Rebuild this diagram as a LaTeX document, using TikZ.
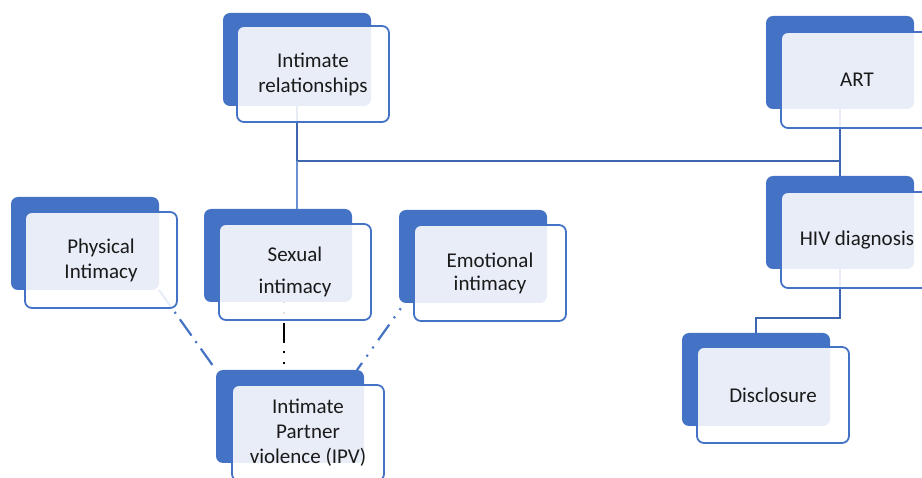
\documentclass[tikz,border=0pt]{standalone}
\usepackage{fontspec}
\setmainfont{Carlito}
\usetikzlibrary{calc}
\pgfdeclarelayer{background}
\pgfsetlayers{background,main}
\definecolor{mblue}{HTML}{4472C4}
\definecolor{cblue}{HTML}{3D66AF}
\definecolor{lblue}{HTML}{6A8FD2}
\definecolor{txt}{HTML}{1A1A1A}
\tikzset{
  backbox/.style={fill=mblue, draw=none, rounded corners=7pt, minimum width=148pt,
    minimum height=93pt, anchor=north west, inner sep=0pt, outer sep=0pt},
  frontbox/.style={fill=white, fill opacity=0.88, text opacity=1, draw=mblue,
    draw opacity=1, line width=1.8pt, rounded corners=7pt, minimum width=152pt,
    minimum height=96pt, anchor=north west, inner sep=0pt, outer sep=0pt,
    align=center, text=txt, font=\fontsize{21}{25}\selectfont},
  thickconn/.style={draw=cblue, line width=2.5pt},
  thinconn/.style={draw=lblue, line width=1.1pt},
  dashdotconn/.style={draw=mblue, line width=2.2pt,
    dash pattern=on 20pt off 7pt on 2pt off 7pt},
  dashdotdotconn/.style={line width=2.2pt,
    dash pattern=on 19pt off 8pt on 2pt off 8pt on 2pt off 8pt},
}
\begin{document}
\begin{tikzpicture}[x=1pt,y=-1pt]
\useasboundingbox (0,0) rectangle (922,478);
% boxes
\node[backbox] (irB) at (223,13) {};
\node[frontbox] (irF) at (237,26) {Intimate\\relationships};
\node[backbox] (piB) at (11,197) {};
\node[frontbox] (piF) at (25,212) {Physical\\Intimacy};
\node[backbox] (siB) at (204,209) {};
\node[frontbox, font=\fontsize{21}{32}\selectfont] (siF) at (219,224) {Sexual\\intimacy};
\node[backbox] (eiB) at (399,210) {};
\node[frontbox, font=\fontsize{21}{23}\selectfont] (eiF) at (414,225) {Emotional\\intimacy};
\node[backbox] (ipvB) at (216,370) {};
\node[frontbox] (ipvF) at (232,385) {Intimate\\Partner\\violence (IPV)};
\node[backbox] (artB) at (766,16) {};
\node[frontbox] (artF) at (781,32) {ART};
\node[backbox] (hivB) at (766,176) {};
\node[frontbox] (hivF) at (781,192) {HIV diagnosis};
\node[backbox] (disB) at (682,333) {};
\node[frontbox] (disF) at (697,347) {Disclosure};
% junction coordinates
\coordinate (j1) at (irB.south |- 0,161);
\coordinate (j2) at (artB.south |- 0,161);
\coordinate (s1) at (j1 |- 0,230);
\coordinate (k1) at (hivB.south |- 0,318);
\coordinate (k2) at (disB.north |- 0,318);
\coordinate (e1) at ($(eiB.south west)+(7,-2)$);
\coordinate (e2) at ($(ipvB.north east)+(-7,0)$);
\coordinate (x1) at ($(siB.south)+(6,0)$);
\coordinate (x2) at (x1 |- ipvB.north);
\begin{pgfonlayer}{background}
  \draw[thickconn] (irB.south) -- (j1) -- (j2);
  \draw[thickconn] (artB.south) -- (hivB.north);
  \draw[thinconn] (j1) -- (s1);
  \draw[thickconn] (hivB.south) -- (k1) -- (k2) -- (disB.north);
  \draw[dashdotconn] (piB.south east) -- (ipvB.north west);
  \draw[dashdotdotconn, draw=mblue, dash phase=18pt] (e1) -- (e2);
  \draw[dashdotdotconn, draw=black, line width=2.5pt,
    dash pattern=on 20pt off 8pt on 2pt off 9pt on 2pt off 9pt, dash phase=29pt] (x1) -- (x2);
\end{pgfonlayer}
\end{tikzpicture}
\end{document}
